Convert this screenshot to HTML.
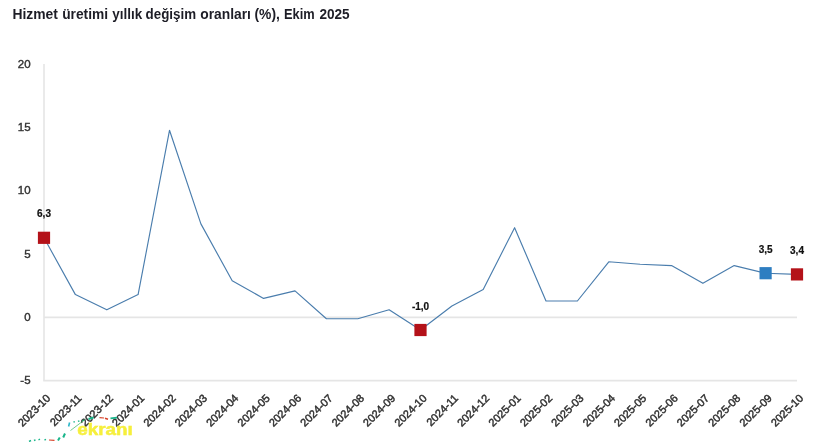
<!DOCTYPE html>
<html><head><meta charset="utf-8"><title>Hizmet üretimi</title>
<style>
html,body{margin:0;padding:0;background:#fff;}
body{width:820px;height:442px;overflow:hidden;font-family:"Liberation Sans",sans-serif;}
svg{display:block}
text{font-family:"Liberation Sans",sans-serif;}
.t{font-size:14px;font-weight:bold;fill:#1d1d26;}
.y{font-size:11.5px;fill:#333;text-anchor:end;stroke:#333;stroke-width:0.4;}
.x{font-size:11px;fill:#303030;text-anchor:end;stroke:#303030;stroke-width:0.45;}
.d{font-size:10px;font-weight:bold;fill:#111;text-anchor:middle;stroke:#111;stroke-width:0.2;}
</style></head><body>
<svg width="820" height="442" viewBox="0 0 820 442">
<rect width="820" height="442" fill="#fff"/>

<text class="t" x="12.4" y="19.2" textLength="45.5" lengthAdjust="spacingAndGlyphs">Hizmet</text>
<text class="t" x="62.2" y="19.2" textLength="45.9" lengthAdjust="spacingAndGlyphs">üretimi</text>
<text class="t" x="112.3" y="19.2" textLength="30.0" lengthAdjust="spacingAndGlyphs">yıllık</text>
<text class="t" x="145.6" y="19.2" textLength="50.5" lengthAdjust="spacingAndGlyphs">değişim</text>
<text class="t" x="200.2" y="19.2" textLength="50.7" lengthAdjust="spacingAndGlyphs">oranları</text>
<text class="t" x="254.5" y="19.2" textLength="25.4" lengthAdjust="spacingAndGlyphs">(%),</text>
<text class="t" x="284.0" y="19.2" textLength="30.7" lengthAdjust="spacingAndGlyphs">Ekim</text>
<text class="t" x="319.4" y="19.2" textLength="30.3" lengthAdjust="spacingAndGlyphs">2025</text>
<line x1="44.0" y1="63.99999999999999" x2="44.0" y2="380.6" stroke="#e5e5e5" stroke-width="1.6"/>
<line x1="44.0" y1="317.4" x2="797.0" y2="317.4" stroke="#e5e5e5" stroke-width="1.6"/>
<line x1="43.2" y1="380.6" x2="797.0" y2="380.6" stroke="#e5e5e5" stroke-width="1.6"/>
<text class="y" x="30.6" y="67.9">20</text>
<text class="y" x="30.6" y="131.1">15</text>
<text class="y" x="30.6" y="194.3">10</text>
<text class="y" x="30.6" y="257.5">5</text>
<text class="y" x="30.6" y="320.7">0</text>
<text class="y" x="30.6" y="383.9">-5</text>
<polyline points="44.0,237.8 75.4,294.6 106.8,309.8 138.1,294.6 169.5,130.3 200.9,223.9 232.2,280.7 263.6,298.4 295.0,290.9 326.4,318.7 357.8,318.7 389.1,309.8 420.5,330.0 451.9,306.0 483.2,289.6 514.6,227.7 546.0,301.0 577.4,301.0 608.8,261.8 640.1,264.3 671.5,265.6 702.9,283.3 734.2,265.6 765.6,273.2 797.0,274.4" fill="none" stroke="#4a7dad" stroke-width="1.15" stroke-linejoin="round"/>
<rect x="37.9" y="231.7" width="12.2" height="12.2" fill="#b41219"/>
<rect x="414.4" y="323.9" width="12.2" height="12.2" fill="#b41219"/>
<rect x="759.5" y="267.1" width="12.2" height="12.2" fill="#2e7ec1"/>
<rect x="790.9" y="268.3" width="12.2" height="12.2" fill="#b41219"/>
<text class="d" x="44.0" y="217.3">6,3</text>
<text class="d" x="420.5" y="309.5">-1,0</text>
<text class="d" x="765.6" y="252.7">3,5</text>
<text class="d" x="797.0" y="253.9">3,4</text>
<text class="x" transform="translate(51.0,398.8) rotate(-45)">2023-10</text>
<text class="x" transform="translate(82.4,398.8) rotate(-45)">2023-11</text>
<text class="x" transform="translate(113.8,398.8) rotate(-45)">2023-12</text>
<text class="x" transform="translate(145.1,398.8) rotate(-45)">2024-01</text>
<text class="x" transform="translate(176.5,398.8) rotate(-45)">2024-02</text>
<text class="x" transform="translate(207.9,398.8) rotate(-45)">2024-03</text>
<text class="x" transform="translate(239.2,398.8) rotate(-45)">2024-04</text>
<text class="x" transform="translate(270.6,398.8) rotate(-45)">2024-05</text>
<text class="x" transform="translate(302.0,398.8) rotate(-45)">2024-06</text>
<text class="x" transform="translate(333.4,398.8) rotate(-45)">2024-07</text>
<text class="x" transform="translate(364.8,398.8) rotate(-45)">2024-08</text>
<text class="x" transform="translate(396.1,398.8) rotate(-45)">2024-09</text>
<text class="x" transform="translate(427.5,398.8) rotate(-45)">2024-10</text>
<text class="x" transform="translate(458.9,398.8) rotate(-45)">2024-11</text>
<text class="x" transform="translate(490.2,398.8) rotate(-45)">2024-12</text>
<text class="x" transform="translate(521.6,398.8) rotate(-45)">2025-01</text>
<text class="x" transform="translate(553.0,398.8) rotate(-45)">2025-02</text>
<text class="x" transform="translate(584.4,398.8) rotate(-45)">2025-03</text>
<text class="x" transform="translate(615.8,398.8) rotate(-45)">2025-04</text>
<text class="x" transform="translate(647.1,398.8) rotate(-45)">2025-05</text>
<text class="x" transform="translate(678.5,398.8) rotate(-45)">2025-06</text>
<text class="x" transform="translate(709.9,398.8) rotate(-45)">2025-07</text>
<text class="x" transform="translate(741.2,398.8) rotate(-45)">2025-08</text>
<text class="x" transform="translate(772.6,398.8) rotate(-45)">2025-09</text>
<text class="x" transform="translate(804.0,398.8) rotate(-45)">2025-10</text>
<g stroke-linecap="butt" fill="none">
<line x1="29" y1="441.5" x2="31" y2="440.5" stroke="#19b58a" stroke-width="1.4"/>
<line x1="34" y1="440.5" x2="35.5" y2="439.8" stroke="#19b58a" stroke-width="1.4"/>
<line x1="38.5" y1="439.8" x2="40" y2="439.2" stroke="#19b58a" stroke-width="1.4"/>
<line x1="44.5" y1="440" x2="46" y2="439.4" stroke="#19b58a" stroke-width="1.4"/>
<line x1="49" y1="440" x2="54.5" y2="440.4" stroke="#d8432b" stroke-width="1.2"/>
<line x1="58" y1="440.5" x2="59.8" y2="437.5" stroke="#19b58a" stroke-width="2"/>
<line x1="63.2" y1="437.5" x2="65" y2="433.5" stroke="#19b58a" stroke-width="2"/>
<line x1="68.6" y1="426.5" x2="69.6" y2="422.5" stroke="#2cb7c9" stroke-width="1.6"/>
<line x1="73.5" y1="422.2" x2="74.8" y2="421.6" stroke="#19b58a" stroke-width="1.4"/>
<line x1="78" y1="421.4" x2="79.4" y2="420.8" stroke="#19b58a" stroke-width="1.4"/>
<line x1="82.5" y1="420.8" x2="84" y2="420.2" stroke="#19b58a" stroke-width="1.4"/>
<line x1="88.5" y1="419" x2="93.5" y2="417.5" stroke="#19b58a" stroke-width="2"/>
<line x1="99.5" y1="417.6" x2="104" y2="418" stroke="#d8432b" stroke-width="1.2"/>
<line x1="105" y1="418.2" x2="108" y2="419.2" stroke="#d8432b" stroke-width="1.6"/>
<line x1="110.5" y1="418.4" x2="117" y2="417.6" stroke="#19b58a" stroke-width="1.6"/>
<line x1="70.5" y1="430.5" x2="85" y2="419.5" stroke="#35b85a" stroke-width="0.7"/>
</g>
<text x="77.3" y="434.6" font-size="16" font-weight="bold" fill="#f6ef3c" stroke="#f6ef3c" stroke-width="0.5" textLength="55.5" lengthAdjust="spacingAndGlyphs">ekranı</text>
</svg></body></html>
